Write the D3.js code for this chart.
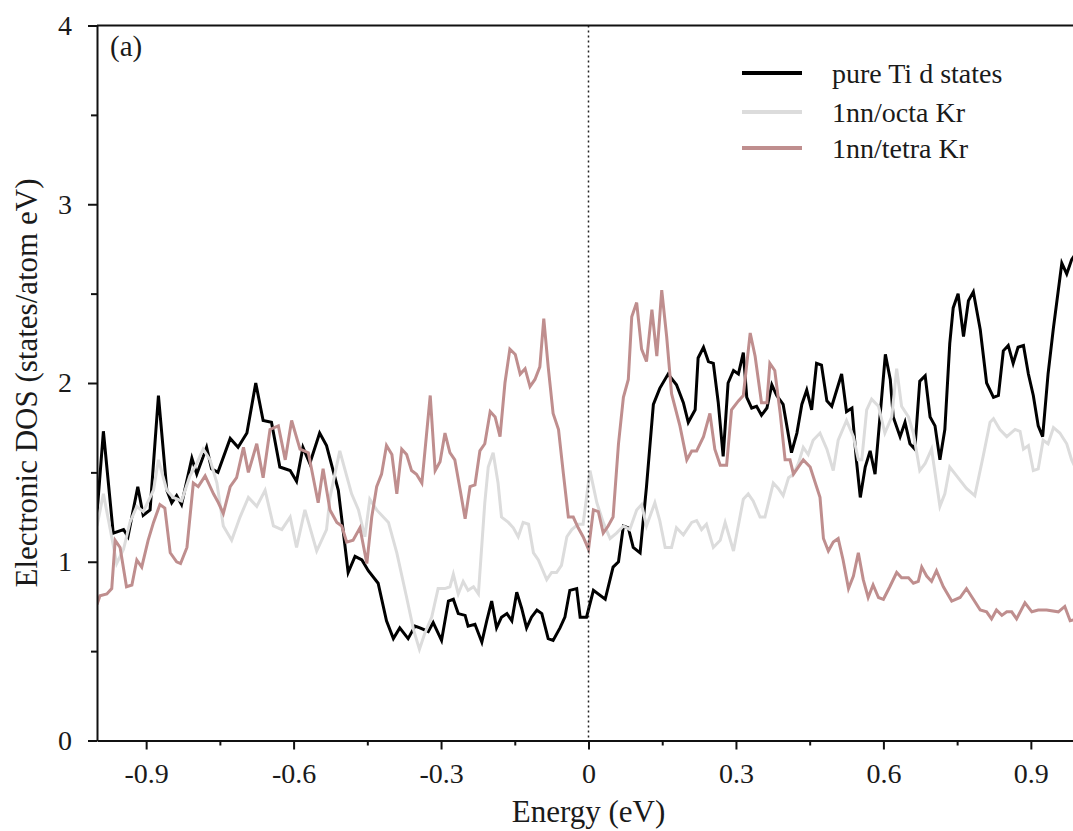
<!DOCTYPE html>
<html>
<head>
<meta charset="utf-8">
<script src="https://cdn.jsdelivr.net/npm/d3@7"></script>
<style>
  html, body { margin: 0; padding: 0; background: #fff; }
  #chart { width: 1073px; height: 831px; overflow: hidden; }
</style>
</head>
<body>
<div id="chart"></div>
<script>
// ***************数据*******************
const seriesNames = ['pure Ti d states', '1nn/octa Kr', '1nn/tetra Kr'];
const xMajorTicks = [-0.9, -0.6, -0.3, 0, 0.3, 0.6, 0.9];
const xMinorTicks = [-0.75, -0.45, -0.15, 0.15, 0.45, 0.75];
const yMajorTicks = [0, 1, 2, 3, 4];
const yMinorTicks = [0.5, 1.5, 2.5, 3.5];

// [energy (eV), DOS]
const tiPoints = [[-1.000,1.27],[-0.987,1.73],[-0.967,1.16],[-0.946,1.18],[-0.937,1.14],[-0.917,1.42],[-0.906,1.26],[-0.892,1.29],[-0.875,1.93],[-0.858,1.40],[-0.848,1.33],[-0.838,1.37],[-0.828,1.32],[-0.807,1.58],[-0.797,1.49],[-0.777,1.64],[-0.767,1.52],[-0.754,1.50],[-0.729,1.69],[-0.713,1.64],[-0.695,1.72],[-0.677,2.00],[-0.662,1.79],[-0.645,1.78],[-0.628,1.53],[-0.607,1.51],[-0.594,1.45],[-0.581,1.64],[-0.567,1.55],[-0.547,1.72],[-0.533,1.65],[-0.509,1.40],[-0.489,0.94],[-0.475,1.03],[-0.461,1.01],[-0.448,0.95],[-0.428,0.88],[-0.411,0.67],[-0.397,0.57],[-0.384,0.63],[-0.367,0.57],[-0.353,0.64],[-0.343,0.63],[-0.326,0.61],[-0.316,0.66],[-0.299,0.56],[-0.285,0.78],[-0.275,0.79],[-0.265,0.71],[-0.251,0.70],[-0.245,0.64],[-0.231,0.65],[-0.217,0.55],[-0.207,0.67],[-0.197,0.78],[-0.187,0.63],[-0.177,0.69],[-0.166,0.71],[-0.156,0.67],[-0.146,0.83],[-0.136,0.74],[-0.126,0.63],[-0.116,0.69],[-0.105,0.73],[-0.095,0.71],[-0.082,0.57],[-0.072,0.56],[-0.058,0.63],[-0.048,0.69],[-0.038,0.84],[-0.024,0.85],[-0.017,0.69],[-0.004,0.69],[0.010,0.84],[0.034,0.79],[0.050,0.97],[0.061,1.00],[0.071,1.20],[0.081,1.19],[0.091,1.08],[0.105,1.05],[0.118,1.42],[0.132,1.88],[0.145,1.97],[0.162,2.05],[0.179,1.99],[0.193,1.89],[0.203,1.78],[0.217,1.85],[0.223,2.14],[0.234,2.20],[0.244,2.12],[0.254,2.11],[0.264,1.89],[0.274,1.59],[0.284,2.00],[0.295,2.07],[0.305,2.05],[0.315,2.17],[0.322,1.92],[0.332,1.86],[0.342,1.87],[0.352,1.82],[0.363,1.86],[0.373,1.99],[0.383,1.93],[0.396,1.88],[0.413,1.61],[0.424,1.72],[0.434,1.88],[0.444,1.96],[0.454,1.85],[0.464,2.11],[0.474,2.10],[0.485,1.90],[0.495,1.87],[0.515,2.05],[0.525,1.84],[0.536,1.86],[0.545,1.57],[0.553,1.36],[0.563,1.53],[0.573,1.62],[0.583,1.49],[0.604,2.16],[0.614,2.02],[0.620,1.81],[0.634,1.70],[0.644,1.78],[0.654,1.66],[0.664,1.63],[0.674,2.01],[0.685,2.04],[0.695,1.81],[0.705,1.76],[0.715,1.57],[0.725,1.74],[0.735,2.22],[0.742,2.42],[0.752,2.50],[0.763,2.26],[0.773,2.46],[0.783,2.51],[0.797,2.30],[0.810,2.00],[0.824,1.92],[0.834,1.93],[0.844,2.18],[0.854,2.21],[0.864,2.11],[0.874,2.20],[0.885,2.21],[0.895,2.05],[0.905,1.93],[0.915,1.76],[0.924,1.70],[0.935,2.05],[0.946,2.31],[0.963,2.67],[0.973,2.61],[0.983,2.69],[0.995,2.74]];

const octaPoints = [[-1.000,1.20],[-0.987,1.38],[-0.973,1.18],[-0.960,0.99],[-0.946,1.07],[-0.933,1.22],[-0.919,1.31],[-0.906,1.28],[-0.885,1.40],[-0.875,1.57],[-0.858,1.40],[-0.845,1.36],[-0.828,1.34],[-0.811,1.48],[-0.797,1.55],[-0.784,1.63],[-0.770,1.57],[-0.756,1.44],[-0.743,1.20],[-0.726,1.12],[-0.709,1.25],[-0.692,1.36],[-0.675,1.31],[-0.658,1.40],[-0.641,1.20],[-0.624,1.18],[-0.607,1.25],[-0.594,1.08],[-0.577,1.29],[-0.553,1.06],[-0.533,1.18],[-0.526,1.36],[-0.506,1.62],[-0.495,1.51],[-0.482,1.38],[-0.468,1.29],[-0.455,1.14],[-0.445,1.35],[-0.431,1.29],[-0.407,1.22],[-0.390,1.05],[-0.370,0.80],[-0.356,0.62],[-0.344,0.51],[-0.333,0.60],[-0.319,0.69],[-0.306,0.85],[-0.292,0.85],[-0.282,0.86],[-0.275,0.93],[-0.265,0.82],[-0.255,0.89],[-0.245,0.84],[-0.234,0.86],[-0.224,0.82],[-0.211,1.33],[-0.204,1.53],[-0.194,1.61],[-0.184,1.44],[-0.177,1.25],[-0.163,1.22],[-0.153,1.19],[-0.143,1.14],[-0.133,1.22],[-0.122,1.21],[-0.112,1.05],[-0.102,1.01],[-0.085,0.90],[-0.075,0.94],[-0.065,0.94],[-0.055,0.98],[-0.044,1.14],[-0.034,1.18],[-0.021,1.21],[-0.011,1.21],[0.003,1.51],[0.017,1.33],[0.030,1.22],[0.044,1.13],[0.057,1.16],[0.071,1.20],[0.084,1.18],[0.098,1.29],[0.108,1.32],[0.118,1.20],[0.135,1.33],[0.145,1.23],[0.156,1.08],[0.169,1.08],[0.179,1.19],[0.193,1.15],[0.210,1.22],[0.220,1.23],[0.230,1.18],[0.240,1.21],[0.254,1.08],[0.268,1.12],[0.278,1.22],[0.295,1.06],[0.315,1.35],[0.325,1.38],[0.335,1.34],[0.349,1.25],[0.359,1.25],[0.376,1.44],[0.386,1.41],[0.396,1.37],[0.407,1.47],[0.417,1.49],[0.427,1.55],[0.437,1.64],[0.447,1.60],[0.457,1.68],[0.471,1.72],[0.485,1.63],[0.498,1.51],[0.508,1.68],[0.525,1.79],[0.539,1.70],[0.549,1.57],[0.556,1.57],[0.566,1.85],[0.576,1.91],[0.590,1.87],[0.603,1.72],[0.617,1.81],[0.627,2.08],[0.637,1.87],[0.651,1.81],[0.661,1.72],[0.674,1.51],[0.685,1.55],[0.698,1.63],[0.715,1.31],[0.725,1.38],[0.735,1.53],[0.749,1.48],[0.769,1.41],[0.786,1.37],[0.803,1.59],[0.817,1.78],[0.824,1.80],[0.837,1.74],[0.851,1.70],[0.868,1.74],[0.878,1.73],[0.885,1.63],[0.895,1.65],[0.905,1.51],[0.915,1.52],[0.925,1.68],[0.935,1.66],[0.946,1.75],[0.959,1.72],[0.973,1.66],[0.983,1.57],[0.995,1.50]];

const tetraPoints = [[-1.000,0.76],[-0.994,0.81],[-0.980,0.82],[-0.970,0.85],[-0.963,1.12],[-0.953,1.08],[-0.940,0.86],[-0.929,0.87],[-0.919,1.01],[-0.909,0.97],[-0.896,1.12],[-0.885,1.22],[-0.872,1.32],[-0.862,1.30],[-0.851,1.05],[-0.838,1.00],[-0.830,0.99],[-0.817,1.08],[-0.804,1.44],[-0.794,1.42],[-0.780,1.48],[-0.763,1.38],[-0.753,1.33],[-0.743,1.27],[-0.729,1.42],[-0.716,1.47],[-0.702,1.64],[-0.692,1.50],[-0.675,1.66],[-0.662,1.47],[-0.648,1.74],[-0.631,1.76],[-0.617,1.57],[-0.604,1.79],[-0.587,1.63],[-0.570,1.61],[-0.550,1.33],[-0.540,1.52],[-0.526,1.29],[-0.512,1.22],[-0.502,1.20],[-0.492,1.11],[-0.479,1.12],[-0.465,1.19],[-0.451,0.99],[-0.441,1.25],[-0.431,1.42],[-0.421,1.49],[-0.411,1.65],[-0.400,1.60],[-0.390,1.38],[-0.380,1.63],[-0.370,1.60],[-0.360,1.51],[-0.350,1.49],[-0.339,1.44],[-0.322,1.93],[-0.312,1.51],[-0.302,1.56],[-0.292,1.72],[-0.282,1.61],[-0.272,1.57],[-0.261,1.40],[-0.251,1.24],[-0.241,1.42],[-0.231,1.43],[-0.221,1.62],[-0.211,1.66],[-0.200,1.84],[-0.190,1.81],[-0.180,1.70],[-0.170,2.00],[-0.160,2.19],[-0.149,2.16],[-0.139,2.05],[-0.129,2.08],[-0.119,1.98],[-0.109,2.02],[-0.099,2.09],[-0.091,2.36],[-0.082,2.09],[-0.072,1.83],[-0.061,1.74],[-0.051,1.49],[-0.041,1.25],[-0.031,1.25],[-0.021,1.19],[-0.011,1.14],[0.000,1.07],[0.010,1.29],[0.020,1.28],[0.030,1.16],[0.040,1.20],[0.050,1.25],[0.061,1.66],[0.071,1.92],[0.081,2.02],[0.088,2.37],[0.098,2.45],[0.108,2.19],[0.118,2.12],[0.129,2.41],[0.139,2.15],[0.149,2.52],[0.159,2.26],[0.169,1.94],[0.186,1.76],[0.200,1.57],[0.210,1.62],[0.220,1.62],[0.234,1.70],[0.247,1.83],[0.257,1.63],[0.268,1.54],[0.281,1.54],[0.291,1.85],[0.305,1.90],[0.315,1.93],[0.329,2.28],[0.339,2.15],[0.352,1.89],[0.363,1.89],[0.369,2.11],[0.379,2.07],[0.390,1.83],[0.400,1.57],[0.410,1.57],[0.417,1.49],[0.437,1.57],[0.451,1.53],[0.464,1.42],[0.471,1.36],[0.478,1.13],[0.488,1.06],[0.498,1.11],[0.508,1.13],[0.518,1.01],[0.529,0.85],[0.539,0.92],[0.549,1.05],[0.559,0.90],[0.569,0.80],[0.579,0.87],[0.590,0.80],[0.600,0.79],[0.613,0.86],[0.627,0.94],[0.637,0.91],[0.651,0.91],[0.661,0.88],[0.671,0.89],[0.678,0.97],[0.688,0.92],[0.698,0.89],[0.708,0.95],[0.722,0.86],[0.739,0.78],[0.756,0.80],[0.769,0.85],[0.783,0.79],[0.797,0.73],[0.810,0.72],[0.820,0.68],[0.830,0.73],[0.841,0.70],[0.851,0.72],[0.861,0.72],[0.871,0.68],[0.888,0.77],[0.902,0.72],[0.915,0.73],[0.932,0.73],[0.956,0.72],[0.969,0.75],[0.980,0.67],[0.995,0.68]];

// ***************尺寸*******************
const width = 1073;
const height = 831;
const plotLeft = 97;
const plotRight = 1080; // 右侧被截断
const plotTop = 25.5;
const plotBottom = 740.5;
const font = '"Liberation Serif", "Times New Roman", serif';
const textColor = '#1a1a1a';

const colors = ['#000000', '#dcdcdc', '#bf8e8e'];

/****************************** 比例尺 ***************************************/
const xScale = d3.scaleLinear().domain([-1, 1]).range([plotLeft, plotRight]);
const yScale = d3.scaleLinear().domain([0, 4]).range([plotBottom, plotTop]);

const svg = d3.select('#chart').append('svg')
    .attr('width', width)
    .attr('height', height);

svg.append('defs').append('clipPath')
    .attr('id', 'plotClip')
    .append('rect')
    .attr('x', plotLeft)
    .attr('y', plotTop)
    .attr('width', plotRight - plotLeft)
    .attr('height', plotBottom - plotTop);

// ***************曲线***************
const line = d3.line()
    .x((d) => xScale(d[0]))
    .y((d) => yScale(d[1]));

const lineGroup = svg.append('g').attr('clip-path', 'url(#plotClip)');
[tiPoints, octaPoints, tetraPoints].forEach((pts, i) => {
    lineGroup.append('path')
        .datum(pts)
        .attr('fill', 'none')
        .attr('stroke', colors[i])
        .attr('stroke-width', 3)
        .attr('stroke-linejoin', 'miter')
        .attr('d', line);
});

// 费米能级虚线
svg.append('line')
    .attr('x1', xScale(0))
    .attr('x2', xScale(0))
    .attr('y1', plotTop)
    .attr('y2', plotBottom)
    .attr('stroke', '#222')
    .attr('stroke-width', 1.5)
    .attr('stroke-dasharray', '2,3');

// ***************坐标轴***************
const styleAxis = (g) => {
    g.selectAll('path, line').attr('stroke', '#111').attr('stroke-width', 2);
    g.selectAll('text')
        .attr('font-family', font)
        .attr('font-size', 28)
        .attr('fill', textColor);
};

svg.append('g')
    .attr('transform', `translate(0,${plotBottom})`)
    .call(d3.axisBottom(xScale)
        .tickValues(xMajorTicks)
        .tickSize(9)
        .tickSizeOuter(0)
        .tickPadding(14)
        .tickFormat((d) => String(d)))
    .call(styleAxis);

svg.append('g')
    .attr('transform', `translate(0,${plotBottom})`)
    .call(d3.axisBottom(xScale)
        .tickValues(xMinorTicks)
        .tickSize(5)
        .tickFormat(''))
    .call((g) => g.select('.domain').remove())
    .call(styleAxis);

svg.append('g')
    .attr('transform', `translate(${plotLeft},0)`)
    .call(d3.axisLeft(yScale)
        .tickValues(yMajorTicks)
        .tickSize(9)
        .tickSizeOuter(0)
        .tickPadding(16)
        .tickFormat(d3.format('d')))
    .call(styleAxis);

svg.append('g')
    .attr('transform', `translate(${plotLeft},0)`)
    .call(d3.axisLeft(yScale)
        .tickValues(yMinorTicks)
        .tickSize(6)
        .tickFormat(''))
    .call((g) => g.select('.domain').remove())
    .call(styleAxis);

// 上边框
svg.append('line')
    .attr('x1', plotLeft)
    .attr('x2', plotRight)
    .attr('y1', plotTop)
    .attr('y2', plotTop)
    .attr('stroke', '#111')
    .attr('stroke-width', 2);

// 轴标题
svg.append('text')
    .attr('x', xScale(0))
    .attr('y', 822)
    .attr('text-anchor', 'middle')
    .attr('font-family', font)
    .attr('font-size', 31)
    .attr('fill', textColor)
    .text('Energy (eV)');

svg.append('text')
    .attr('transform', `translate(37,${(plotTop + plotBottom) / 2}) rotate(-90)`)
    .attr('text-anchor', 'middle')
    .attr('font-family', font)
    .attr('font-size', 31)
    .attr('fill', textColor)
    .text('Electronic DOS (states/atom eV)');

svg.append('text')
    .attr('x', 110)
    .attr('y', 56)
    .attr('font-family', font)
    .attr('font-size', 29)
    .attr('fill', textColor)
    .text('(a)');

// ***************图例***************
const legendY = [73, 112, 148];
const legend = svg.append('g').attr('class', 'legend');
seriesNames.forEach((name, i) => {
    legend.append('line')
        .attr('x1', 742)
        .attr('x2', 802)
        .attr('y1', legendY[i])
        .attr('y2', legendY[i])
        .attr('stroke', colors[i])
        .attr('stroke-width', 4);
    legend.append('text')
        .attr('x', 832)
        .attr('y', legendY[i] + 10)
        .attr('font-family', font)
        .attr('font-size', 28)
        .attr('fill', textColor)
        .text(name);
});
</script>
</body>
</html>
